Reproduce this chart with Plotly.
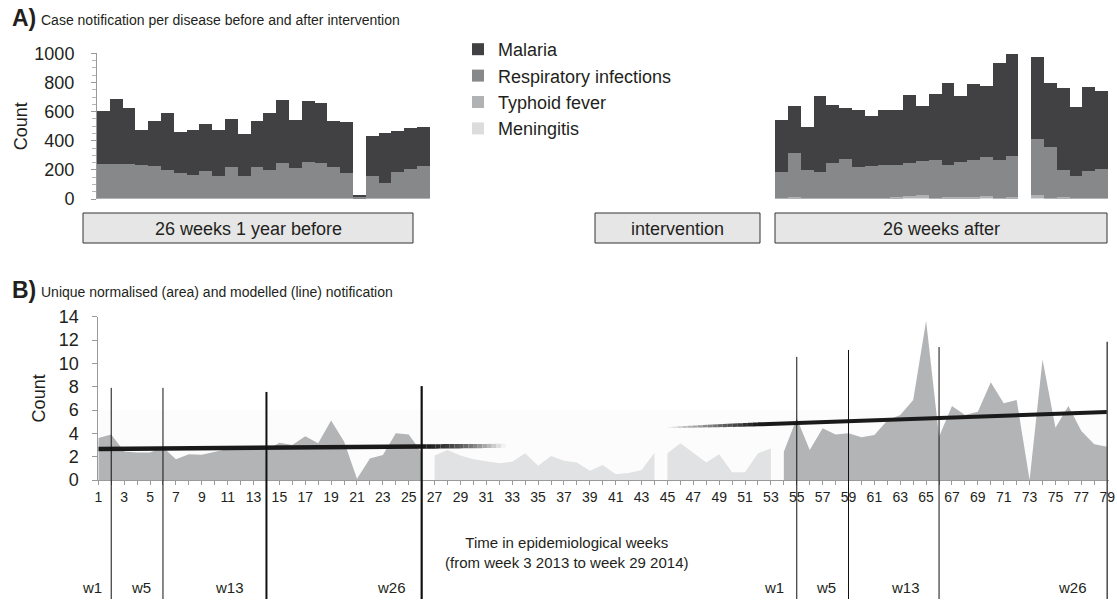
import plotly.graph_objects as go
import numpy as np

# ---------------- DATA ----------------
weeks = list(range(1, 80))
before_weeks = list(range(1, 27))
after_weeks = list(range(54, 80))

# Panel A: case counts per disease (stacked), weeks 1-26 and 54-79
malaria_before = [360, 448, 387, 243, 313, 391, 277, 304, 324, 311, 332, 288, 318,
                  396, 430, 328, 416, 407, 316, 350, 15, 277, 338, 281, 279, 272]
resp_before = [236, 234, 235, 227, 218, 196, 174, 161, 185, 154, 214, 151, 213,
               191, 242, 207, 250, 242, 210, 172, 10, 149, 107, 176, 201, 218]
typhoid_before = [3, 2, 2, 3, 2, 2, 3, 2, 2, 3, 2, 4, 3, 2, 3, 2, 3, 4, 5, 3, 1, 3, 2, 3, 4, 3]
meningitis_before = [1, 2, 1, 1, 2, 1, 1, 2, 1, 1, 1, 1, 1, 1, 2, 1, 1, 1, 2, 1, 1, 1, 1, 2, 1, 1]

malaria_after = [356, 321, 291, 524, 397, 347, 388, 346, 374, 372, 466, 377, 452,
                 567, 452, 521, 487, 666, 703, None, 563, 436, 560, 471, 579, 535]
resp_after = [175, 305, 195, 173, 240, 266, 213, 215, 227, 225, 226, 235, 262,
              220, 240, 255, 269, 257, 282, None, 388, 349, 186, 152, 180, 197]
typhoid_after = [4, 8, 4, 6, 5, 5, 4, 6, 5, 8, 18, 20, 6, 8, 9, 12, 16, 6, 8, None, 22, 6, 12, 5, 6, 6]
meningitis_after = [2, 2, 1, 2, 1, 2, 1, 2, 2, 1, 2, 2, 1, 2, 1, 2, 2, 1, 2, None, 3, 1, 2, 1, 2, 1]

# stack order bottom -> top
diseases = ["Meningitis", "Typhoid fever", "Respiratory infections", "Malaria"]
legend_rank = {"Malaria": 1, "Respiratory infections": 2, "Typhoid fever": 3, "Meningitis": 4}

# Panel B: unique normalised notification per week (1..79)
normalised = [3.6, 3.9, 2.45, 2.35, 2.35, 2.8, 1.77, 2.2, 2.17, 2.4, 2.65, 2.65, 2.65,
              2.55, 3.2, 3.0, 3.75, 3.15, 5.1, 3.3, 0.1, 1.85, 2.15, 4.0, 3.9, 2.35,
              2.1, 2.57, 2.1, 1.77, 1.6, 1.43, 1.57, 2.29, 1.23, 2.06, 1.66, 1.49, 0.8,
              1.29, 0.49, 0.6, 0.86, 2.34, 2.3, 3.14, 2.34, 1.51, 2.2, 0.66, 0.66, 2.29, 2.7,
              2.43, 5.29, 2.57, 4.43, 3.91, 4.0, 3.66, 3.86, 5.1, 5.57, 6.86, 13.66, 3.7,
              6.34, 5.57, 5.86, 8.37, 6.57, 6.86, 0.0, 10.34, 4.49, 6.34, 4.2, 3.06, 2.86]
# area segments: (first week, last week, style)
area_segments = [(1, 26, "observed"), (27, 44, "intervention"),
                 (45, 53, "intervention"), (54, 79, "observed")]

# modelled lines (straight fits, given by end points)
model_before_x, model_before_y = [1, 26], [2.65, 2.87]
model_before_fade_x, model_before_fade_y = [26, 32.5], [2.87, 2.93]
model_after_fade_x, model_after_fade_y = [45, 52], [4.5, 4.77]
model_after_x, model_after_y = [52, 79], [4.77, 5.83]

# period markers
mark_weeks = [2, 6, 14, 26, 55, 59, 66, 79]
mark_tops = [7.9, 7.9, 7.55, 8.05, 10.55, 11.15, 11.4, 11.85]
mark_labels = ["w1", "w5", "w13", "w26", "w1", "w5", "w13", "w26"]

x_ticktext = [str(w) if w % 2 == 1 else "" for w in weeks]

# ---------------- STYLE ----------------
FONT = "Liberation Sans, Arial, sans-serif"
TXT = "#231f20"
W, H = 1117, 600
colors = {"Meningitis": "#dcdcdd", "Typhoid fever": "#b1b2b4",
          "Respiratory infections": "#87888a", "Malaria": "#414143"}
area_colors = {"observed": "#b3b4b6", "intervention": "#e1e2e3"}


def px_x(p):
    return p / W


def px_y(p):
    return 1 - p / H


fig = go.Figure()

series_before = {"Meningitis": meningitis_before, "Typhoid fever": typhoid_before,
                 "Respiratory infections": resp_before, "Malaria": malaria_before}
series_after = {"Meningitis": meningitis_after, "Typhoid fever": typhoid_after,
                "Respiratory infections": resp_after, "Malaria": malaria_after}

for d in diseases:
    fig.add_trace(go.Bar(
        x=before_weeks + after_weeks,
        y=series_before[d] + series_after[d],
        name=d, legendgroup=d, legendrank=legend_rank[d],
        marker=dict(color=colors[d], line=dict(width=0)),
        xaxis="x", yaxis="y"))

# Panel B areas
for (a, b, style) in area_segments:
    xs = weeks[a - 1:b]
    ys = normalised[a - 1:b]
    fig.add_trace(go.Scatter(
        x=xs, y=ys, mode="lines", fill="tozeroy",
        fillcolor=area_colors[style], line=dict(width=0, color=area_colors[style]),
        showlegend=False, hoverinfo="skip", xaxis="x2", yaxis="y2"))


def mix(c0, c1, t):
    return "rgb(%d,%d,%d)" % tuple(int(round(c0[i] + (c1[i] - c0[i]) * t)) for i in range(3))


def faded(xs, ys, c_from, c_to, w_from, w_to, n=16, ease=1.0):
    ts = np.linspace(0, 1, n + 1)
    for i in range(n):
        t0, t1 = ts[i], ts[i + 1]
        x0 = xs[0] + (xs[1] - xs[0]) * t0
        x1 = xs[0] + (xs[1] - xs[0]) * t1
        y0 = ys[0] + (ys[1] - ys[0]) * t0
        y1 = ys[0] + (ys[1] - ys[0]) * t1
        tm = ((t0 + t1) / 2) ** ease
        fig.add_trace(go.Scatter(
            x=[x0, x1], y=[y0, y1], mode="lines",
            line=dict(color=mix(c_from, c_to, tm), width=w_from + (w_to - w_from) * tm),
            showlegend=False, hoverinfo="skip", xaxis="x2", yaxis="y2"))


DARK = (26, 26, 26)
WHITE = (252, 252, 252)

fig.add_trace(go.Scatter(x=model_before_x, y=model_before_y, mode="lines",
                         line=dict(color="#1a1a1a", width=4.5),
                         showlegend=False, hoverinfo="skip", xaxis="x2", yaxis="y2"))
faded(model_before_fade_x, model_before_fade_y, DARK, WHITE, 4.5, 4.0, n=18, ease=1.6)
faded(model_after_fade_x, model_after_fade_y, WHITE, DARK, 1.0, 4.0, n=18, ease=0.8)
fig.add_trace(go.Scatter(x=model_after_x, y=model_after_y, mode="lines",
                         line=dict(color="#1a1a1a", width=4.0),
                         showlegend=False, hoverinfo="skip", xaxis="x2", yaxis="y2"))

# ---------------- LAYOUT ----------------
yA = [px_y(199), px_y(53.3)]
xA = [px_x(97), px_x(1108)]
yB = [px_y(480), px_y(316.7)]
xB = [px_x(98.3), px_x(1108.5)]

shapes = []
annotations = []

# faint band behind panel B
shapes.append(dict(type="rect", xref="x2", yref="y2", x0=1, x1=79, y0=0, y1=6,
                   fillcolor="#fcfcfc", line=dict(width=0), layer="below"))

# period marker lines
bottom_paper = px_y(599)
mark_widths = [1, 1, 2, 2.2, 1, 1, 1, 1.6]
mark_colors = ["#111", "#111", "#111", "#111", "#111", "#111", "#111", "#555"]
y2_lo, y2_hi = 0, 14
for wk, top, lw, lc in zip(mark_weeks, mark_tops, mark_widths, mark_colors):
    top_paper = yB[0] + (top - y2_lo) / (y2_hi - y2_lo) * (yB[1] - yB[0])
    shapes.append(dict(type="line", xref="x2", yref="paper", x0=wk, x1=wk,
                       y0=bottom_paper, y1=top_paper, line=dict(color=lc, width=lw)))

label_px = [92, 141, 229, 391, 774, 826, 905, 1072]
for lab, p in zip(mark_labels, label_px):
    annotations.append(dict(text=lab, x=px_x(p), y=px_y(587), xref="paper", yref="paper",
                            showarrow=False, xanchor="center", yanchor="middle",
                            font=dict(family=FONT, size=15, color=TXT)))

# period boxes under panel A
boxes = [("26 weeks 1 year before", 83, 413), ("intervention", 595, 760),
         ("26 weeks after", 775, 1107)]
for text, x0, x1 in boxes:
    shapes.append(dict(type="rect", xref="paper", yref="paper",
                       x0=px_x(x0), x1=px_x(x1), y0=px_y(243), y1=px_y(213),
                       fillcolor="#e6e6e6", line=dict(color="#333", width=1)))
    annotations.append(dict(text=text, x=px_x((x0 + x1) / 2), y=px_y(228.5),
                            xref="paper", yref="paper", showarrow=False,
                            xanchor="center", yanchor="middle",
                            font=dict(family=FONT, size=18, color=TXT)))

# panel titles
for letter, title, ypix in [("A)", "Case notification per disease before and after intervention", 18),
                            ("B)", "Unique normalised (area) and modelled (line) notification", 290)]:
    annotations.append(dict(text="<b>" + letter + "</b>", x=px_x(10), y=px_y(ypix),
                            xref="paper", yref="paper", showarrow=False,
                            xanchor="left", yanchor="middle",
                            font=dict(family=FONT, size=23, color=TXT)))
    annotations.append(dict(text=title, x=px_x(39), y=px_y(ypix + 2),
                            xref="paper", yref="paper", showarrow=False,
                            xanchor="left", yanchor="middle",
                            font=dict(family=FONT, size=14, color=TXT)))

# x-axis title panel B
annotations.append(dict(text="Time in epidemiological weeks<br>(from week 3 2013 to week 29 2014)",
                        x=px_x(566), y=px_y(552), xref="paper", yref="paper",
                        showarrow=False, xanchor="center", yanchor="middle",
                        font=dict(family=FONT, size=15, color=TXT)))

axis_grey = "#9a9a9a"

fig.update_layout(
    width=W, height=H,
    margin=dict(l=0, r=0, t=0, b=0),
    paper_bgcolor="white", plot_bgcolor="rgba(0,0,0,0)",
    barmode="stack", bargap=0,
    font=dict(family=FONT, color=TXT),
    showlegend=True,
    legend=dict(x=px_x(458), y=px_y(31), xanchor="left", yanchor="top",
                traceorder="grouped", tracegroupgap=0,
                font=dict(family=FONT, size=18, color=TXT),
                bgcolor="rgba(0,0,0,0)", itemclick=False, itemdoubleclick=False),
    xaxis=dict(domain=xA, range=[0.5, 79.5], showticklabels=False, ticks="",
               showgrid=False, zeroline=False, showline=False,
               anchor="y", fixedrange=True),
    yaxis=dict(domain=yA, range=[0, 1000], tickvals=[0, 200, 400, 600, 800, 1000],
               ticks="outside", ticklen=5, tickcolor=axis_grey, showline=True,
               linecolor=axis_grey, linewidth=1, showgrid=False, zeroline=False,
               minor=dict(dtick=50, ticks="outside", ticklen=4, tickcolor="#b5b5b5"),
               tickfont=dict(family=FONT, size=18, color=TXT), ticklabelstandoff=13,
               title=dict(text="Count", font=dict(family=FONT, size=18, color=TXT), standoff=2),
               anchor="x", automargin=False, fixedrange=True),
    xaxis2=dict(domain=xB, range=[1, 79.1], tickmode="array", tickvals=weeks,
                ticktext=x_ticktext, ticks="outside", ticklen=4, tickcolor=axis_grey,
                showline=True, linecolor=axis_grey, linewidth=1, showgrid=False,
                zeroline=False, tickangle=0,
                tickfont=dict(family=FONT, size=14, color=TXT),
                anchor="y2", automargin=False, fixedrange=True),
    yaxis2=dict(domain=yB, range=[0, 14], tickvals=[0, 2, 4, 6, 8, 10, 12, 14],
                ticks="outside", ticklen=5, tickcolor=axis_grey, showline=True,
                linecolor=axis_grey, linewidth=1, showgrid=False, zeroline=False,
                tickfont=dict(family=FONT, size=18, color=TXT), ticklabelstandoff=10,
                title=dict(text="Count", font=dict(family=FONT, size=18, color=TXT), standoff=8),
                anchor="x2", automargin=False, fixedrange=True),
    shapes=shapes,
    annotations=annotations,
)

fig.write_html("out.html", config={"displayModeBar": False},
               post_script="document.body.style.margin='0';document.body.style.overflow='hidden';")
